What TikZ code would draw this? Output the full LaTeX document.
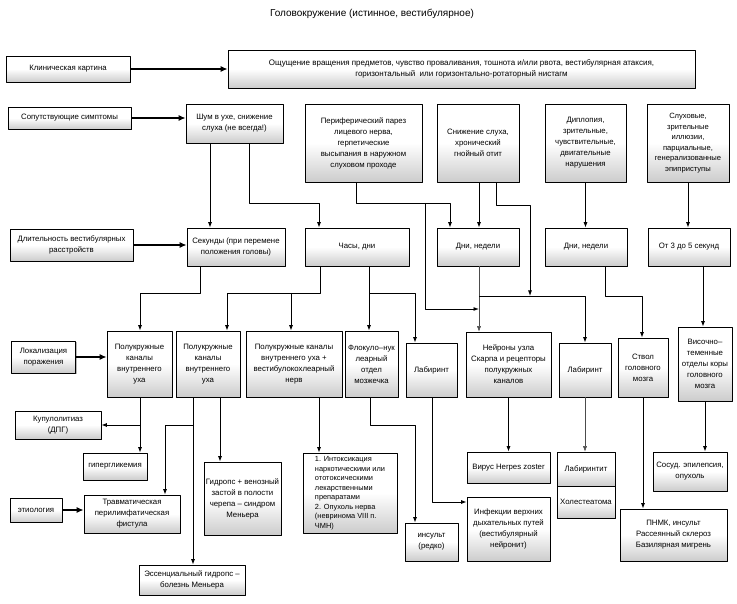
\documentclass[tikz,border=0pt]{standalone}
\usepackage{fontspec}
\setmainfont{Liberation Sans}
\usetikzlibrary{arrows.meta,shadows}
\tikzset{
  box/.style={draw,line width=0.6pt,align=center,inner sep=1pt,
    font=\fontsize{7.8}{11}\selectfont,
    top color=white,bottom color=black!20,middle color=white,
    drop shadow={shadow xshift=1.2pt,shadow yshift=-1.2pt,fill=black!55}},
  lnk/.style={line width=0.9pt,->},
  faint/.style={line width=0.5pt,draw=black!70,->},
  fat/.style={line width=2.2pt,-{Latex[length=7pt,width=6pt]}},
}
\begin{document}
\begin{tikzpicture}[x=1pt,y=-1pt,line join=round,>={Latex[length=5.5pt,width=4pt]}]
  \useasboundingbox (0,0) rectangle (737,604);
  \node[font=\fontsize{10}{12}\selectfont] (title) at (372,14) {Головокружение (истинное, вестибулярное)};
  % left column
  \node[box,minimum width=124,minimum height=26] (klin) at (68,69) {Клиническая картина};
  \node[box,minimum width=123,minimum height=22] (sop) at (69.5,118) {Сопутствующие симптомы};
  \node[box,minimum width=123,minimum height=32] (dlit) at (71.5,245) {Длительность вестибулярных\\расстройств};
  \node[box,minimum width=64,minimum height=32] (lok) at (43.5,357) {Локализация\\поражения};
  \node[box,minimum width=86,minimum height=28] (kupul) at (58,425) {Купулолитиаз\\(ДПГ)};
  \node[box,minimum width=52,minimum height=24] (etio) at (36,510) {этиология};
  % clinical picture
  \node[box,minimum width=467,minimum height=38,font=\fontsize{8}{11.5}\selectfont] (oshch) at (461.5,69)
    {Ощущение вращения предметов, чувство проваливания, тошнота и/или рвота, вестибулярная атаксия,\\горизонтальный\ \ или горизонтально-ротаторный нистагм};
  % symptoms
  \node[box,minimum width=97,minimum height=39] (shum) at (234.5,123.5) {Шум в ухе, снижение\\слуха (не всегда!)};
  \node[box,minimum width=117,minimum height=78] (perif) at (363.5,143) {Периферический парез\\лицевого нерва,\\герпетические\\высыпания в наружном\\слуховом проходе};
  \node[box,minimum width=82,minimum height=78] (snizh) at (478,143) {Снижение слуха,\\хронический\\гнойный отит};
  \node[box,minimum width=81,minimum height=78] (diplo) at (585.5,143) {Диплопия,\\зрительные,\\чувствительные,\\двигательные\\нарушения};
  \node[box,minimum width=82,minimum height=78,font=\fontsize{7.6}{10.5}\selectfont] (sluh) at (688,143) {Слуховые,\\зрительные\\иллюзии,\\парциальные,\\генерализованные\\эпиприступы};
  % duration
  \node[box,minimum width=98,minimum height=38] (sek) at (236,247) {Секунды (при перемене\\положения головы)};
  \node[box,minimum width=104,minimum height=38] (chasy) at (357,247) {Часы, дни};
  \node[box,minimum width=82,minimum height=38] (dni1) at (478,247) {Дни, недели};
  \node[box,minimum width=82,minimum height=38] (dni2) at (586,247) {Дни, недели};
  \node[box,minimum width=82,minimum height=38] (ot3) at (689,247) {От 3 до 5 секунд};
  % localization
  \node[box,minimum width=65,minimum height=66] (pk1) at (139.5,364) {Полукружные\\каналы\\внутреннего\\уха};
  \node[box,minimum width=64,minimum height=66] (pk2) at (208,364) {Полукружные\\каналы\\внутреннего\\уха};
  \node[box,minimum width=96,minimum height=66] (pk3) at (294,364) {Полукружные каналы\\внутреннего уха +\\вестибулокохлеарный\\нерв};
  \node[box,minimum width=53,minimum height=66] (floc) at (371.5,364) {Флокуло–нук\\леарный\\отдел\\мозжечка};
  \node[box,minimum width=51,minimum height=54] (lab1) at (431.5,370) {Лабиринт};
  \node[box,minimum width=85,minimum height=65] (neir) at (508.5,364.5) {Нейроны узла\\Скарпа и рецепторы\\полукружных\\каналов};
  \node[box,minimum width=52,minimum height=54] (lab2) at (585,370) {Лабиринт};
  \node[box,minimum width=50,minimum height=59] (stvol) at (643,367.5) {Ствол\\головного\\мозга};
  \node[box,minimum width=54,minimum height=74] (visoch) at (705,364) {Височно–\\теменные\\отделы коры\\головного\\мозга};
  % etiology
  \node[box,minimum width=64,minimum height=27] (hyper) at (115,466.5) {гипергликемия};
  \node[box,minimum width=96,minimum height=38] (travm) at (132,514) {Травматическая\\перилимфатическая\\фистула};
  \node[box,minimum width=77,minimum height=73] (gidrops) at (242.5,498.5) {Гидропс + венозный\\застой в полости\\черепа – синдром\\Меньера};
  \node[box,minimum width=106,minimum height=30] (ess) at (192,580) {Эссенциальный гидропс –\\болезнь Меньера};
  \node[box,minimum width=94,minimum height=80,align=left,font=\fontsize{7.4}{9.5}\selectfont] (intox) at (350,493)
    {1. Интоксикация\\наркотическими или\\ототоксическими\\лекарственными\\препаратами\\2. Опухоль нерва\\(невринома VIII п.\\ЧМН)};
  \node[box,minimum width=53,minimum height=38] (insult) at (431.5,542) {инсульт\\(редко)};
  \node[box,minimum width=83,minimum height=31] (herpes) at (508.5,467.5) {Вирус Herpes zoster};
  \node[box,minimum width=83,minimum height=64] (infek) at (508.5,529) {Инфекции верхних\\дыхательных путей\\(вестибулярный\\нейронит)};
  \node[box,minimum width=58,minimum height=34] (labit) at (586,469) {Лабиринтит};
  \node[box,minimum width=58,minimum height=32] (holest) at (586,502) {Холестеатома};
  \node[box,minimum width=107,minimum height=52] (pnmk) at (673.5,535) {ПНМК, инсульт\\Рассеянный склероз\\Базилярная мигрень};
  \node[box,minimum width=74,minimum height=39] (sosud) at (690,471.5) {Сосуд. эпилепсия,\\опухоль};
  % bold arrows from the left column
  \draw[fat] (klin.east) -- (klin.east -| oshch.west);
  \draw[fat] (sop.east) -- (sop.east -| shum.west);
  \draw[fat] (dlit.east) -- (dlit.east -| sek.west);
  \draw[fat] (lok.east) -- (lok.east -| pk1.west);
  \draw[fat] (etio.east) -- (etio.east -| travm.west);
  % symptoms -> duration
  \draw[lnk] (210,0 |- shum.south) -- (210,0 |- sek.north);
  \draw[lnk] (249,0 |- shum.south) |- (319,203) -- (319,0 |- chasy.north);
  \draw[lnk] (356,0 |- perif.south) |- (450,203) -- (450,0 |- dni1.north);
  \draw[lnk] (425,203) |- (479,309);
  \draw[lnk] (479,0 |- snizh.south) -- (479,0 |- dni1.north);
  \draw[lnk] (496,0 |- snizh.south) |- (530,205) -- (530,296);
  \draw[lnk] (diplo.south) -- (diplo.south |- dni2.north);
  \draw[lnk] (sluh.south) -- (sluh.south |- ot3.north);
  % duration -> localization
  \draw[lnk] (200,0 |- sek.south) |- (140,293) -- (140,0 |- pk1.north);
  \draw[lnk] (320,0 |- chasy.south) |- (227,293) -- (227,0 |- pk2.north);
  \draw[lnk] (291,293) -- (291,0 |- pk3.north);
  \draw[lnk] (369,0 |- chasy.south) -- (369,0 |- floc.north);
  \draw[lnk] (369,293) -| (415,0 |- lab1.north);
  \draw[faint] (479,0 |- dni1.south) -- (479,0 |- neir.north);
  \draw[lnk] (479,296) -| (585,0 |- lab2.north);
  \draw[lnk] (605,0 |- dni2.south) |- (642,296) -- (642,0 |- stvol.north);
  \draw[lnk] (703,0 |- ot3.south) -- (703,0 |- visoch.north);
  % localization -> etiology
  \draw[lnk] (140,0 |- pk1.south) -- (140,0 |- hyper.north);
  \draw[lnk] (140,425) -- (kupul.east);
  \draw[lnk] (193,0 |- pk2.south) -- (193,0 |- ess.north);
  \draw[lnk] (193,425) -| (165,0 |- travm.north);
  \draw[lnk] (220,0 |- pk2.south) -- (220,0 |- gidrops.north);
  \draw[lnk] (319,0 |- pk3.south) -- (319,0 |- intox.north);
  \draw[lnk] (370,0 |- floc.south) |- (415,425) -- (415,0 |- insult.north);
  \draw[lnk] (432,0 |- lab1.south) |- (infek.west |- 0,502);
  \draw[lnk] (neir.south) -- (neir.south |- herpes.north);
  \draw[faint] (lab2.south) -- (lab2.south |- labit.north);
  \draw[lnk] (stvol.south) -- (stvol.south |- pnmk.north);
  \draw[lnk] (visoch.south) -- (visoch.south |- sosud.north);
\end{tikzpicture}
\end{document}
